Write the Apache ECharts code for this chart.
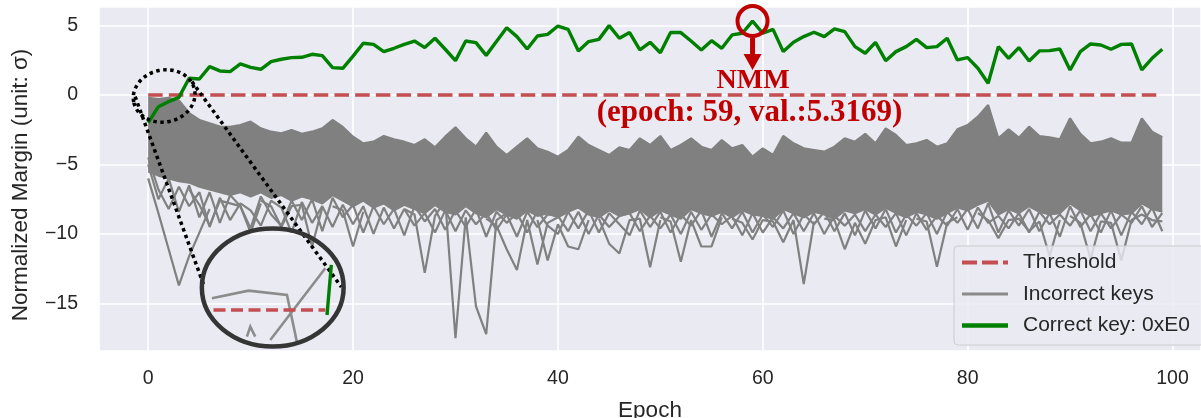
<!DOCTYPE html>
<html>
<head>
<meta charset="utf-8">
<script src="https://cdn.jsdelivr.net/npm/echarts@6/dist/echarts.min.js"></script>
<style>html,body{margin:0;padding:0;background:#fff}#c{width:1201px;height:418px}</style>
</head>
<body>
<div id="c"></div>
<script>
// ---------------- DATA ----------------
const xTicks = [0, 20, 40, 60, 80, 100];
const yTicks = [-15, -10, -5, 0, 5];
const thresholdValue = 0;
const nmmPoint = [59, 5.3169];
const yTitle = 'Normalized Margin (unit: \u03c3)';
const xTitle = 'Epoch';

// Correct key 0xE0, epochs 0..99
const correctKey = [
  -2.0, -0.84, -0.48, -0.17, 1.2, 1.15, 2.04, 1.73, 1.68, 2.23,
  1.99, 1.85, 2.4, 2.57, 2.69, 2.71, 2.93, 2.83, 1.97, 1.92,
  2.8, 3.72, 3.64, 3.12, 3.36, 3.64, 3.88, 3.41, 4.08, 3.29,
  2.47, 3.88, 3.77, 2.85, 3.84, 4.84, 4.2, 3.31, 4.24, 4.36,
  4.96, 4.72, 3.17, 3.84, 4.0, 4.99, 4.08, 4.49, 3.24, 3.79,
  3.04, 4.49, 4.49, 3.88, 3.24, 3.91, 3.36, 4.32, 4.44, 5.3169,
  4.44, 4.72, 3.12, 3.79, 4.2, 4.51, 4.2, 4.75, 4.56, 3.48,
  3.0, 3.79, 2.47, 3.12, 3.48, 4.0, 3.41, 3.48, 4.08, 2.52,
  2.69, 1.92, 0.84, 3.48, 2.64, 3.41, 2.45, 3.17, 3.19, 3.31,
  1.8, 3.12, 3.67, 3.6, 3.29, 3.64, 3.67, 1.8, 2.64, 3.29
];

// Incorrect keys: top edge of the dense bundle of 255 lines
const incorrectTop = [
  -0.2, -0.3, -0.2, -0.4, -1.3, -1.8, -2.04, -2.28, -2.3, -2.16,
  -1.92, -2.4, -2.64, -2.76, -2.52, -2.8, -2.64, -2.4, -1.8, -2.3,
  -3.0, -3.48, -3.36, -2.95, -3.19, -3.36, -3.6, -3.19, -3.77, -3.0,
  -2.33, -3.12, -3.72, -2.71, -3.72, -4.32, -3.72, -3.12, -3.84, -4.08,
  -4.44, -3.96, -3.0, -3.6, -3.96, -4.32, -3.77, -3.96, -3.12, -3.6,
  -2.95, -3.96, -3.6, -3.12, -3.72, -3.96, -3.24, -3.84, -3.6, -4.44,
  -3.84, -4.32, -2.95, -3.48, -3.84, -3.96, -4.08, -3.72, -3.12, -3.36,
  -2.8, -3.48, -2.4, -2.88, -3.6, -3.48, -3.24, -3.72, -3.48, -2.47,
  -2.16, -1.56, -0.72, -3.12, -2.47, -3.07, -2.28, -2.95, -3.04, -3.19,
  -1.68, -2.8, -3.48, -3.36, -3.12, -3.43, -3.43, -1.68, -2.64, -3.04
];

// Incorrect keys: bottom edge of the dense bundle
const incorrectBottom = [
  -5.5, -5.8, -6.0, -6.2, -6.3, -6.6, -6.8, -7.0, -7.2, -7.0,
  -7.3, -7.0, -7.4, -7.2, -7.6, -7.3, -7.5, -7.8, -7.2, -7.6,
  -8.0, -7.6, -8.1, -7.8, -8.3, -7.9, -8.2, -8.5, -7.9, -8.4,
  -8.6, -8.0, -8.5, -8.8, -8.2, -8.6, -8.9, -8.3, -8.7, -8.5,
  -8.8, -8.4, -8.1, -8.6, -8.8, -8.3, -8.7, -8.5, -8.2, -8.8,
  -8.3, -8.6, -8.9, -8.2, -8.5, -8.7, -8.4, -8.8, -8.3, -8.6,
  -8.7, -8.9, -8.2, -8.5, -8.8, -8.4, -8.6, -8.9, -8.3, -8.5,
  -8.2, -8.6, -8.1, -8.5, -8.8, -8.4, -8.6, -8.9, -8.5, -8.1,
  -8.3, -7.9, -7.6, -8.6, -8.2, -8.5, -8.0, -8.4, -8.6, -8.5,
  -7.8, -8.3, -8.7, -8.5, -8.3, -8.6, -8.5, -7.8, -8.2, -8.4
];

// Incorrect keys: two lines of the ragged fringe hanging under the bundle
const incorrectFringeA = [
  -5.0, -7.5, -6.0, -8.4, -6.5, -8.8, -7.0, -9.2, -7.2, -8.0,
  -9.6, -7.3, -8.6, -9.4, -7.6, -9.0, -7.5, -9.8, -7.4, -8.8,
  -7.9, -9.9, -8.0, -9.3, -8.2, -10.1, -8.0, -9.1, -8.2, -9.7,
  -8.3, -9.5, -8.2, -10.2, -8.4, -9.2, -8.5, -9.9, -8.3, -9.4,
  -10.0, -8.4, -9.6, -8.3, -9.9, -8.5, -9.3, -10.1, -8.3, -9.5,
  -8.4, -9.9, -8.6, -9.4, -8.3, -10.2, -8.5, -9.6, -8.4, -9.9,
  -8.6, -9.5, -8.3, -10.0, -8.6, -9.3, -8.4, -9.8, -8.5, -10.1,
  -8.3, -9.6, -8.2, -9.9, -8.6, -9.4, -8.5, -10.0, -8.4, -9.2,
  -8.2, -9.6, -7.8, -9.9, -8.3, -9.4, -8.2, -9.8, -8.5, -10.2,
  -8.0, -9.5, -8.6, -9.9, -8.3, -10.1, -8.4, -9.3, -8.1, -9.8
];
const incorrectFringeB = [
  -4.5, -6.8, -8.2, -6.6, -8.0, -7.0, -9.5, -7.4, -9.0, -7.8,
  -8.3, -9.4, -7.6, -8.1, -9.9, -7.7, -9.2, -8.0, -9.5, -7.9,
  -9.3, -8.0, -10.0, -8.1, -9.6, -8.2, -9.4, -8.5, -9.9, -8.3,
  -9.8, -8.3, -9.3, -8.5, -9.7, -8.6, -10.2, -8.4, -9.5, -8.6,
  -8.7, -9.8, -8.4, -10.0, -8.6, -9.5, -8.7, -8.5, -9.8, -8.7,
  -9.6, -8.6, -10.0, -8.4, -9.7, -8.6, -9.3, -8.7, -10.1, -8.5,
  -9.9, -8.8, -9.6, -8.5, -9.8, -8.5, -10.0, -8.7, -9.4, -8.6,
  -9.8, -8.6, -9.5, -8.5, -10.1, -8.5, -9.7, -8.7, -9.4, -8.2,
  -9.7, -8.1, -9.2, -8.7, -9.6, -8.5, -9.9, -8.4, -9.3, -8.6,
  -9.4, -8.3, -9.8, -8.5, -9.6, -8.6, -9.2, -8.0, -9.5, -8.5
];

// Incorrect keys: visible outlier excursions [epoch, value]
const outlierA = [[0,-6.0],[1,-8.5],[2,-11.1],[3,-13.7],[4,-11.6],[5,-9.9],[6,-8.2]];
const outlierB = [[4,-6.8],[5,-7.9],[6,-9.4],[7,-7.6],[8,-7.8],[9,-8.0],[10,-9.9],[11,-7.8]];
const outlierC = [[11,-7.6],[12,-8.0],[13,-9.5],[14,-8.0],[15,-7.9],[16,-10.9],[17,-8.1]];
const outlierD = [[18,-8.0],[19,-8.3],[20,-10.9],[21,-8.4]];
const outlierE = [[25,-8.2],[26,-8.6],[27,-12.8],[28,-8.7],[29,-7.6],[30,-17.5],[31,-8.8],[32,-15.2],[33,-17.2],[34,-9.0],[35,-8.5]];
const outlierF = [[33,-8.9],[34,-9.4],[35,-11.1],[36,-12.6],[37,-9.0],[38,-12.2],[39,-9.2],[40,-8.8]];
const outlierG = [[38,-9.0],[39,-11.9],[40,-9.3],[41,-10.9],[42,-11.1],[43,-9.0]];
const outlierH = [[44,-8.9],[45,-10.7],[46,-11.4],[47,-9.0],[48,-8.9],[49,-12.4],[50,-9.0]];
const outlierI = [[50,-8.8],[51,-9.1],[52,-12.0],[53,-9.0],[54,-10.9],[55,-10.9],[56,-8.8]];
const outlierJ = [[57,-8.9],[58,-9.2],[59,-10.4],[60,-9.0],[61,-9.1],[62,-10.6],[63,-9.0],[64,-13.6],[65,-9.1]];
const outlierK = [[66,-8.9],[67,-9.0],[68,-11.1],[69,-9.2],[70,-10.7],[71,-9.0],[72,-8.8],[73,-10.9],[74,-9.0]];
const outlierL = [[75,-8.9],[76,-9.1],[77,-12.35],[78,-9.2],[79,-8.8]];
const outlierM = [[81,-8.5],[82,-9.0],[83,-10.3],[84,-9.0],[85,-8.9],[86,-9.8],[87,-9.1],[88,-11.6],[89,-9.0]];
const outlierN = [[90,-8.7],[91,-9.2],[92,-11.8],[93,-9.1],[94,-9.2],[95,-11.9],[96,-9.0],[97,-8.6],[98,-9.0],[99,-9.1]];
const outliers = [outlierA, outlierB, outlierC, outlierD, outlierE, outlierF, outlierG,
                  outlierH, outlierI, outlierJ, outlierK, outlierL, outlierM, outlierN];

// Annotation geometry, in data units of the main axes
const zoomSpot = { center: [1.56, -0.07], rx: 3.03, ry: 1.87 };
const insetSpot = { center: [12.16, -13.85], rx: 6.92, ry: 4.24 };
const connectorLeft = [[-1.27, -0.12], [5.49, -13.81]];
const connectorRight = [[4.27, 0.96], [18.86, -13.81]];
const insetGray1 = [[6.22, -14.63], [9.80, -14.08], [13.55, -14.39], [14.5, -17.7]];
const insetGray2 = [[11.92, -17.63], [17.29, -12.47]];
const insetGray3 = [[9.64, -17.39], [9.97, -16.67], [10.45, -17.39]];
const insetThreshold = [[6.38, -15.47], [17.29, -15.47]];
const insetGreen = [[17.46, -15.83], [17.88, -12.23]];

// ---------------- CHART ----------------
const GRAY = '#808080';
const RED = '#C44E52';
const GREEN = '#008000';
const DARKRED = '#C00000';
const TXT = '#262626';
const SANS = '"Liberation Sans", Arial, sans-serif';
const SERIF = '"Liberation Serif", "Times New Roman", serif';

const toPairs = arr => arr.map((v, i) => [i, v]);
const fmtNum = v => (v < 0 ? '\u2212' + Math.abs(v) : String(v));

const grayLine = (data) => ({
  name: 'Incorrect keys', type: 'line', data, symbol: 'none', color: GRAY,
  lineStyle: { color: GRAY, width: 2.2 }, z: 2, silent: true
});

// dense bundle: polygon between the top and bottom edges, through the axes
const bundleSeries = {
  name: 'Incorrect keys', type: 'custom', color: GRAY, z: 1, silent: true,
  data: incorrectTop.map((v, i) => [i, v, incorrectBottom[i]]),
  renderItem: (params, api) => {
    if (params.dataIndex !== 0) return null;
    const top = incorrectTop.map((v, i) => api.coord([i, v]));
    const bot = incorrectBottom.map((v, i) => api.coord([i, v])).reverse();
    return { type: 'polygon', shape: { points: top.concat(bot) }, style: { fill: GRAY, stroke: null } };
  }
};

const series = [
  bundleSeries,
  grayLine(toPairs(incorrectTop)),
  grayLine(toPairs(incorrectBottom)),
  grayLine(toPairs(incorrectFringeA)),
  grayLine(toPairs(incorrectFringeB)),
  ...outliers.map(o => grayLine(o)),
  { name: 'Threshold', type: 'line', data: correctKey.map((_, i) => [i, thresholdValue]),
    symbol: 'none', color: RED, z: 3, silent: true,
    lineStyle: { color: RED, width: 3.3, type: [14.5, 6.2], cap: 'butt' } },
  { name: 'Correct key: 0xE0', type: 'line', data: toPairs(correctKey), symbol: 'none',
    color: GREEN, z: 4, silent: true, lineStyle: { color: GREEN, width: 3.4 } }
];

const chart = echarts.init(document.getElementById('c'), null, { renderer: 'canvas' });
chart.setOption({
  animation: false,
  backgroundColor: '#ffffff',
  grid: { left: 99, top: 7, right: 0, height: 344, show: true, outerBoundsMode: 'none',
          backgroundColor: '#EAEAF2', borderWidth: 0, containLabel: false },
  xAxis: {
    type: 'value', min: -4.8, max: 102.78,
    name: xTitle, nameLocation: 'middle', nameGap: 48,
    nameTextStyle: { fontFamily: SANS, fontSize: 22.5, color: TXT },
    axisLine: { show: false }, axisTick: { show: false },
    axisLabel: { fontFamily: SANS, fontSize: 19.5, color: TXT, margin: 18,
                 showMinLabel: false, showMaxLabel: false,
                 formatter: v => (xTicks.includes(v) ? fmtNum(v) : '') },
    splitLine: { show: true, lineStyle: { color: '#ffffff', width: 1.6 } }
  },
  yAxis: {
    type: 'value', min: -18.42, max: 6.33,
    axisLine: { show: false }, axisTick: { show: false },
    axisLabel: { fontFamily: SANS, fontSize: 19.5, color: TXT, margin: 21,
                 showMinLabel: false, showMaxLabel: false,
                 formatter: v => (yTicks.includes(v) ? fmtNum(v) : '') },
    splitLine: { show: true, lineStyle: { color: '#ffffff', width: 1.6 } }
  },
  legend: {
    orient: 'vertical', left: 954, top: 246, selectedMode: false,
    itemWidth: 46, itemHeight: 5, itemGap: 10.5, padding: [6, 20, 9, 8],
    backgroundColor: 'rgba(234,234,242,0.8)', borderColor: '#CCCCCC', borderWidth: 1, borderRadius: 4,
    symbolKeepAspect: true,
    formatter: n => '{t|' + n + '}',
    textStyle: { fontFamily: SANS, fontSize: 21, color: TXT,
                 rich: { t: { fontFamily: SANS, fontSize: 21, color: TXT, padding: [0, 0, 0, 10] } } },
    data: [
      { name: 'Threshold', icon: 'path://M0,0h15v4h-15z M20,0h16v4h-16z M41,0h5v4h-5z',
        itemStyle: { color: RED, borderWidth: 0, borderColor: 'transparent' } },
      { name: 'Incorrect keys', icon: 'path://M0,0h46v3h-46z',
        itemStyle: { color: '#8a8a8a', borderWidth: 0, borderColor: 'transparent' } },
      { name: 'Correct key: 0xE0', icon: 'path://M0,0h46v4.6h-46z',
        itemStyle: { color: GREEN, borderWidth: 0, borderColor: 'transparent' } }
    ]
  },
  series
});

// ---------------- ANNOTATIONS (placed through the axes) ----------------
const P = (pt) => chart.convertToPixel({ xAxisIndex: 0, yAxisIndex: 0 }, pt);
const radii = (spot) => {
  const c = P(spot.center);
  const ex = P([spot.center[0] + spot.rx, spot.center[1]]);
  const ey = P([spot.center[0], spot.center[1] + spot.ry]);
  return { c, rx: ex[0] - c[0], ry: c[1] - ey[1] };
};
const zs = radii(zoomSpot);
const is = radii(insetSpot);
const poly = (pts, style) => ({ type: 'polyline', z: 100, silent: true,
  shape: { points: pts.map(P) }, style: Object.assign({ fill: 'none' }, style) });

const pk = P(nmmPoint);
const px = pk[0], py = pk[1];

chart.setOption({
  graphic: [
    { type: 'text', z: 100, silent: true, x: 21, y: 185, rotation: Math.PI / 2,
      style: { text: yTitle, fill: TXT, font: '22.5px ' + SANS, align: 'center', verticalAlign: 'middle' } },
    poly(connectorLeft, { stroke: '#000', lineWidth: 3.5, lineDash: [3.5, 3.5] }),
    poly(connectorRight, { stroke: '#000', lineWidth: 3.5, lineDash: [3.5, 3.5] }),
    { type: 'ellipse', z: 100, silent: true, x: zs.c[0], y: zs.c[1], rotation: 0.2,
      shape: { cx: 0, cy: 0, rx: zs.rx, ry: zs.ry },
      style: { fill: 'none', stroke: '#000', lineWidth: 3.5, lineDash: [3.5, 3.5] } },
    poly(insetGray1, { stroke: '#8c8c8c', lineWidth: 2.6 }),
    poly(insetGray2, { stroke: '#8c8c8c', lineWidth: 2.6 }),
    poly(insetGray3, { stroke: '#8c8c8c', lineWidth: 2.6 }),
    poly(insetThreshold, { stroke: RED, lineWidth: 3.3, lineDash: [12, 5.5] }),
    poly(insetGreen, { stroke: GREEN, lineWidth: 3.4 }),
    { type: 'ellipse', z: 101, silent: true,
      shape: { cx: is.c[0], cy: is.c[1], rx: is.rx, ry: is.ry },
      style: { fill: 'none', stroke: '#353535', lineWidth: 4.5 } },
    { type: 'circle', z: 100, silent: true, shape: { cx: px, cy: py, r: 15 },
      style: { fill: 'none', stroke: DARKRED, lineWidth: 4 } },
    { type: 'polygon', z: 100, silent: true,
      shape: { points: [[px - 2.5, py + 17], [px + 2.5, py + 17], [px + 2.5, py + 33], [px + 9, py + 33],
                        [px, py + 49], [px - 9, py + 33], [px - 2.5, py + 33]] },
      style: { fill: DARKRED } },
    { type: 'text', z: 100, silent: true, x: px + 0.5, y: py + 60,
      style: { text: 'NMM', fill: DARKRED, font: 'bold 28px ' + SERIF, align: 'center', verticalAlign: 'middle' } },
    { type: 'text', z: 100, silent: true, x: px - 3, y: py + 92,
      style: { text: '(epoch: ' + nmmPoint[0] + ', val.:' + nmmPoint[1] + ')', fill: DARKRED,
               font: 'bold 31px ' + SERIF, align: 'center', verticalAlign: 'middle' } }
  ]
});
</script>
</body>
</html>
